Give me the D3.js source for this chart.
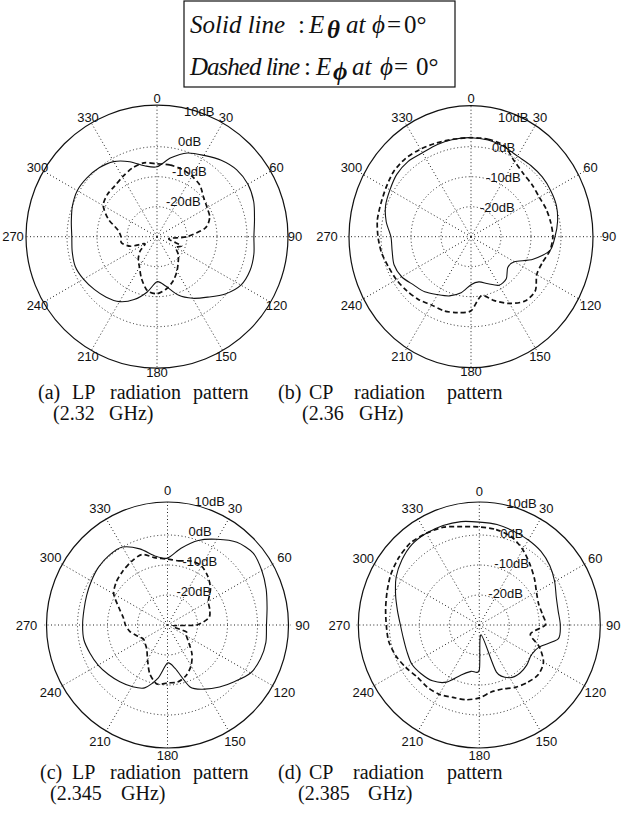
<!DOCTYPE html>
<html>
<head>
<meta charset="utf-8">
<script src="https://cdn.jsdelivr.net/npm/d3@7"></script>
<style>
  body { margin: 0; background: #fff; }
  .tick { font-family: "Liberation Sans", Arial, sans-serif; font-size: 13px; fill: #111; }
  .cap { font-family: "Liberation Serif", "Times New Roman", serif; font-size: 20px; fill: #111; }
  .leg { font-family: "Liberation Serif", "Times New Roman", serif; font-size: 25px; fill: #111; }
</style>
</head>
<body>
<svg id="fig" width="627" height="832"></svg>
<script>

// angle of every sample, degrees clockwise from the top
var angles = [0, 10, 20, 30, 40, 50, 60, 70, 80, 90, 100, 110, 120, 130, 140, 150, 160, 170,
              180, 190, 200, 210, 220, 230, 240, 250, 260, 270, 280, 290, 300, 310, 320, 330, 340, 350]

// (a) LP 2.32 GHz, dB
var aSolid = [-6.7, -3.3, -0.3, 1.3, 3.3, 4.7, 5.0, 4.3, 3.0, 2.3, 2.8, 3.0, 2.3, -0.3, -3.7, -6.3, -9.3, -13.3,
              -15.0, -11.3, -7.7, -5.0, -3.7, -2.7, -1.7, -1.0, -1.3, -1.6, -1.0, 0.0, 0.7, 0.5, 0.0, -1.1, -3.4, -6.0]
var aDashed = [-5.7, -5.7, -6.0, -6.7, -7.7, -9.7, -10.7, -11.3, -13.7, -20.0, -26.0, -21.3, -22.7, -20.7, -19.0, -16.7, -14.3, -12.3,
               -11.0, -11.7, -15.0, -18.3, -20.3, -22.7, -25.3, -20.7, -18.0, -18.0, -16.7, -12.7, -9.3, -8.3, -8.0, -7.0, -5.7, -5.0]

// (b) CP 2.36 GHz
var bSolid = [3.0, 2.7, 2.0, 1.0, 1.0, 1.0, 0.7, 0.3, -0.7, -2.0, -3.3, -8.0, -13.3, -14.0, -11.7, -11.3, -13.3, -14.7,
              -14.0, -11.0, -9.0, -7.7, -6.0, -5.0, -3.3, -2.7, -3.3, -3.3, -1.3, 0.3, 1.2, 2.3, 2.7, 2.3, 2.7, 3.0]
var bDashed = [3.0, 3.0, 2.3, -1.0, -2.7, -3.3, -3.7, -3.3, -3.0, -2.7, -3.3, -4.7, -4.7, -2.0, -2.0, -4.3, -7.3, -10.0,
               -5.3, -4.3, -3.7, -3.7, -2.7, -2.0, -1.3, -0.7, 0.3, 1.0, 1.7, 2.0, 2.7, 3.7, 4.0, 3.7, 3.3, 3.0]

// (c) LP 2.345 GHz
var cSolid = [-7.7, -4.0, 0.0, 3.0, 6.0, 7.3, 6.3, 5.0, 3.7, 3.0, 3.3, 3.0, 2.0, -0.7, -3.0, -5.3, -8.0, -15.3,
              -17.3, -12.0, -7.7, -6.3, -5.3, -4.3, -3.3, -2.5, -1.7, -1.7, -1.7, -1.3, -0.7, 0.0, 0.3, 0.0, -3.0, -6.7]
var cDashed = [-8.0, -8.3, -7.3, -7.3, -9.0, -11.3, -14.3, -15.0, -16.0, -20.3, -28.3, -23.3, -22.7, -20.7, -17.3, -14.3, -12.0, -10.7,
               -10.7, -10.0, -12.7, -16.7, -19.3, -20.3, -20.7, -19.3, -17.3, -16.0, -15.0, -12.7, -9.3, -7.7, -6.7, -5.7, -5.0, -7.3]

// (d) CP 2.385 GHz
var dSolid = [4.3, 4.0, 3.3, 2.7, 2.0, 0.7, -1.0, -2.7, -3.3, -3.0, -3.3, -8.7, -10.0, -9.3, -9.0, -9.7, -13.3, -26.7,
              -15.0, -14.3, -12.3, -8.0, -5.7, -4.7, -4.0, -4.3, -4.3, -3.7, -2.3, -0.3, 2.0, 3.7, 5.0, 5.3, 5.3, 5.0]
var dDashed = [2.7, 2.3, 1.3, -1.0, -3.7, -6.0, -8.0, -9.0, -8.7, -8.0, -12.7, -8.7, -5.3, -4.3, -5.0, -6.0, -7.3, -7.3,
               -5.7, -4.7, -4.3, -3.3, -3.0, -3.0, -1.7, -0.3, 0.7, 1.0, 1.7, 2.7, 4.0, 5.0, 5.7, 5.3, 4.7, 3.3]

// grid ticks
var ringValues = [-20, -10, 0]
var ringLabels = [10, 0, -10, -20]
var spokeAngles = [0, 30, 60, 90, 120, 150, 180, 210, 240, 270, 300, 330]

var svg = d3.select("#fig")

var rScale = d3.scaleLinear().domain([-30, 10]).range([0, 120])

var panels = [
    { cx: 157, cy: 236.7, rx: 131, ry: 131.5, labelR: 138, bottomExtra: -2, labelDy: -1, solid: aSolid, dashed: aDashed },
    { cx: 471, cy: 236.7, rx: 122, ry: 131, labelR: 138, bottomExtra: -3, labelDy: 5, solid: bSolid, dashed: bDashed },
    { cx: 167.5, cy: 625, rx: 121, ry: 123, labelR: 135, bottomExtra: -5, labelDy: 1, solid: cSolid, dashed: cDashed },
    { cx: 479.3, cy: 625, rx: 121, ry: 123, labelR: 134, bottomExtra: -4, labelDy: 3, solid: dSolid, dashed: dDashed }
]

function rad(deg) { return deg * Math.PI / 180 }

function drawPolar(p) {
    var g = svg.append("g").attr("transform", `translate(${p.cx},${p.cy})`)

    // dotted rings
    g.selectAll(".ring").data(ringValues).enter().append("circle")
        .attr("r", d => rScale(d))
        .attr("fill", "none")
        .attr("stroke", "#222")
        .attr("stroke-width", 1)
        .attr("stroke-dasharray", "1,2.5")

    // dotted spokes
    g.selectAll(".spoke").data(spokeAngles).enter().append("line")
        .attr("x1", 0).attr("y1", 0)
        .attr("x2", d => p.ry * Math.sin(rad(d)))
        .attr("y2", d => -p.ry * Math.cos(rad(d)))
        .attr("stroke", "#222")
        .attr("stroke-width", 1)
        .attr("stroke-dasharray", "1,2.5")

    // outer boundary
    g.append("ellipse")
        .attr("rx", p.rx).attr("ry", p.ry)
        .attr("fill", "none")
        .attr("stroke", "#111")
        .attr("stroke-width", 1.2)

    // angle labels
    g.selectAll(".ang").data(spokeAngles).enter().append("text")
        .attr("class", "tick")
        .attr("x", d => (p.labelR + (d == 270 ? 6 : 0)) * Math.sin(rad(d)))
        .attr("y", d => -(p.labelR + (d == 180 ? p.bottomExtra : 0)) * Math.cos(rad(d)))
        .attr("text-anchor", "middle")
        .attr("dominant-baseline", "central")
        .text(d => d)

    // ring labels
    g.selectAll(".rl").data(ringLabels).enter().append("text")
        .attr("class", "tick")
        .attr("x", d => 3 + 0.2 * rScale(d))
        .attr("y", d => -rScale(d) + p.labelDy)
        .text(d => d + "dB")

    var line = d3.lineRadial()
        .angle(d => rad(d[0]))
        .radius(d => rScale(d[1]))
        .curve(d3.curveCardinalClosed.tension(0.2))

    g.append("path")
        .datum(d3.zip(angles, p.solid))
        .attr("d", line)
        .attr("fill", "none")
        .attr("stroke", "#111")
        .attr("stroke-width", 1.1)

    g.append("path")
        .datum(d3.zip(angles, p.dashed))
        .attr("d", line)
        .attr("fill", "none")
        .attr("stroke", "#111")
        .attr("stroke-width", 1.7)
        .attr("stroke-dasharray", "5,3")
}

panels.forEach(drawPolar)

// legend box
svg.append("rect")
    .attr("x", 184).attr("y", 1)
    .attr("width", 271).attr("height", 86)
    .attr("fill", "none").attr("stroke", "#111").attr("stroke-width", 1.2)

function legendLine(y, name, nameSize, nameSpacing, pieces) {
    svg.append("text").attr("class", "leg").attr("x", 190).attr("y", y)
        .attr("font-style", "italic")
        .attr("font-size", nameSize)
        .attr("letter-spacing", nameSpacing)
        .text(name)
    pieces.forEach(function(pc) {
        svg.append("text").attr("class", "leg")
            .attr("x", pc[0]).attr("y", y + (pc[3] || 0))
            .attr("font-style", pc[2] ? "italic" : "normal")
            .attr("font-weight", pc[3] ? "bold" : "normal")
            .attr("font-size", pc[4] || 25)
            .text(pc[1])
    })
}

legendLine(33, "Solid line", 24, 0, [
    [298, ":"], [309, "E", true], [327, "\u03B8", true, 5, 13], [346, "at", true],
    [372, "\u03D5", true], [387, "="], [404, "0\u00B0"]
])
legendLine(75, "Dashed line", 23, -1, [
    [304, ":"], [316, "E", true], [333, "\u03D5", true, 5, 13], [352, "at", true],
    [380, "\u03D5", true], [394, "="], [416, "0\u00B0"]
])

// captions
var captions = [
    { y: 399, words: [[38, "(a)"], [72, "LP"], [110, "radiation"], [193, "pattern"]] },
    { y: 420, words: [[53, "(2.32"], [109, "GHz)"]] },
    { y: 399, words: [[278, "(b)"], [309, "CP"], [354, "radiation"], [447, "pattern"]] },
    { y: 420, words: [[302, "(2.36"], [359, "GHz)"]] },
    { y: 779, words: [[40, "(c)"], [72, "LP"], [110, "radiation"], [193, "pattern"]] },
    { y: 800, words: [[50, "(2.345"], [121, "GHz)"]] },
    { y: 779, words: [[278, "(d)"], [309, "CP"], [353, "radiation"], [447, "pattern"]] },
    { y: 800, words: [[298, "(2.385"], [368, "GHz)"]] }
]

captions.forEach(function(c) {
    c.words.forEach(function(w) {
        svg.append("text").attr("class", "cap").attr("x", w[0]).attr("y", c.y).text(w[1])
    })
})

</script>
</body>
</html>
